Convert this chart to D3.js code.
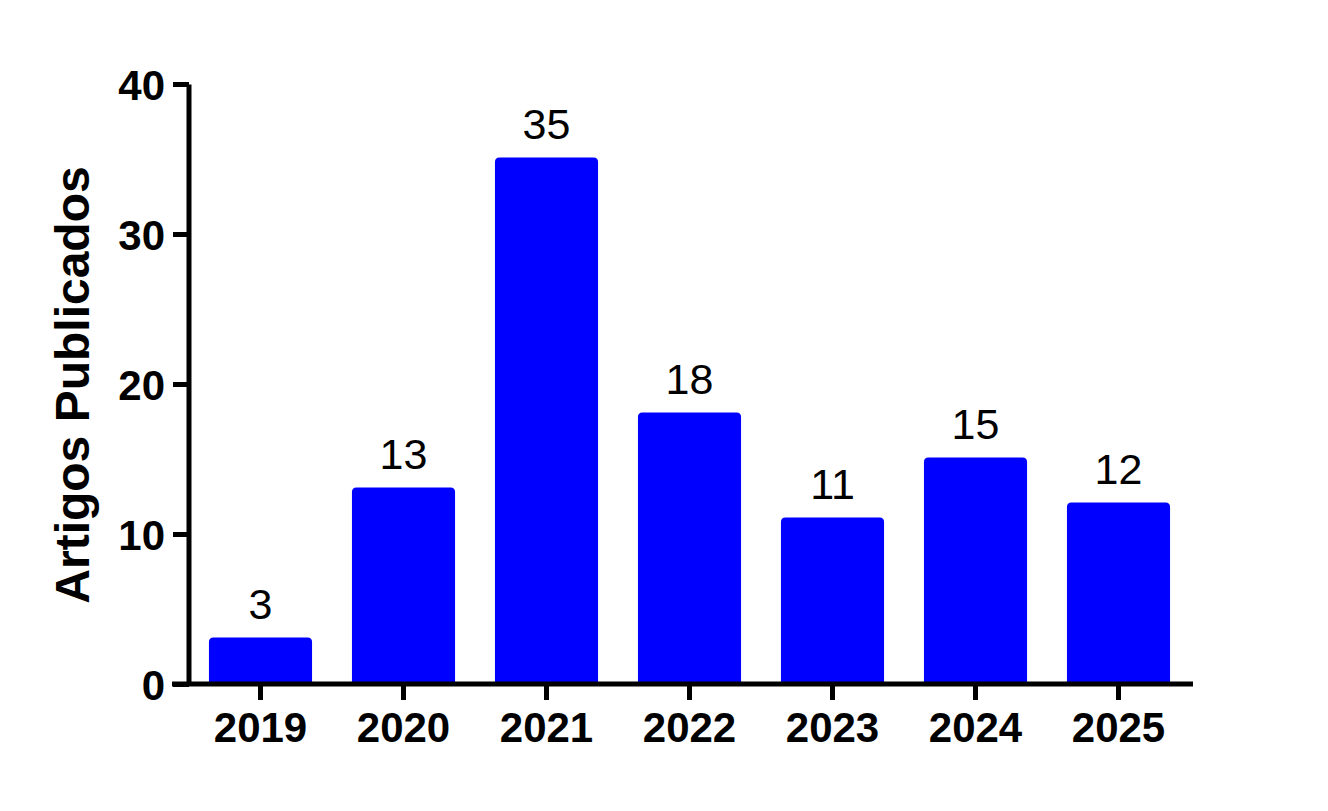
<!DOCTYPE html>
<html><head><meta charset="utf-8">
<script src="https://cdn.jsdelivr.net/npm/d3@7"></script>
<style>body{margin:0;background:#fff}svg{display:block}</style>
</head><body>
<svg id="c" width="1328" height="811"></svg>
<script>
const categories = ["2019","2020","2021","2022","2023","2024","2025"];
const values = [3,13,35,18,11,15,12];
const yTicks = [0,10,20,30,40];
const yTitle = "Artigos Publicados";

const svg = d3.select("#c");
const font = "'Liberation Sans', Arial, sans-serif";
const x = d3.scaleBand().domain(categories).range([189,1190]).paddingInner(0.3).paddingOuter(0.15);
const y = d3.scaleLinear().domain([0,40]).range([684,84]);

// bars with slightly rounded top corners
const r = 3;
svg.append("g").selectAll("path").data(values).join("path")
  .attr("fill","#0000ff").attr("stroke","#0000ff").attr("stroke-width",3).attr("stroke-linejoin","round")
  .attr("d",(d,i)=>{
    const x0 = x(categories[i]), w = x.bandwidth(), y0 = y(d), y1 = y(0);
    return `M${x0},${y1}L${x0},${y0+r}Q${x0},${y0} ${x0+r},${y0}L${x0+w-r},${y0}Q${x0+w},${y0} ${x0+w},${y0+r}L${x0+w},${y1}Z`;
  });

// value labels
svg.append("g").selectAll("text").data(values).join("text")
  .attr("x",(d,i)=>x(categories[i])+x.bandwidth()/2)
  .attr("y",d=>y(d)-20)
  .attr("text-anchor","middle")
  .attr("font-family",font).attr("font-size",43).attr("fill","#000")
  .text(d=>d);

// y axis
const ya = svg.append("g").attr("transform","translate(189,0)")
  .call(d3.axisLeft(y).tickValues(yTicks).tickSize(16).tickPadding(8));
ya.select(".domain").attr("stroke","#000").attr("stroke-width",5).attr("d","M0,84.5V684");
ya.selectAll(".tick line").attr("stroke","#000").attr("stroke-width",5);
ya.selectAll(".tick text").attr("font-family",font).attr("font-size",42).attr("font-weight","bold").attr("fill","#000").attr("dy","0.36em");

// x axis
const xa = svg.append("g").attr("transform","translate(0,684)")
  .call(d3.axisBottom(x).tickSize(16).tickPadding(12).tickSizeOuter(0));
xa.select(".domain").attr("stroke","#000").attr("stroke-width",5).attr("d","M172,0H1193");
xa.selectAll(".tick line").attr("stroke","#000").attr("stroke-width",5);
xa.selectAll(".tick text").attr("font-family",font).attr("font-size",42).attr("font-weight","bold").attr("fill","#000");

// y title
svg.append("text")
  .attr("transform","translate(89,385) rotate(-90)")
  .attr("text-anchor","middle")
  .attr("font-family",font).attr("font-size",48).attr("font-weight","bold").attr("fill","#000")
  .text(yTitle);
</script>
</body></html>
